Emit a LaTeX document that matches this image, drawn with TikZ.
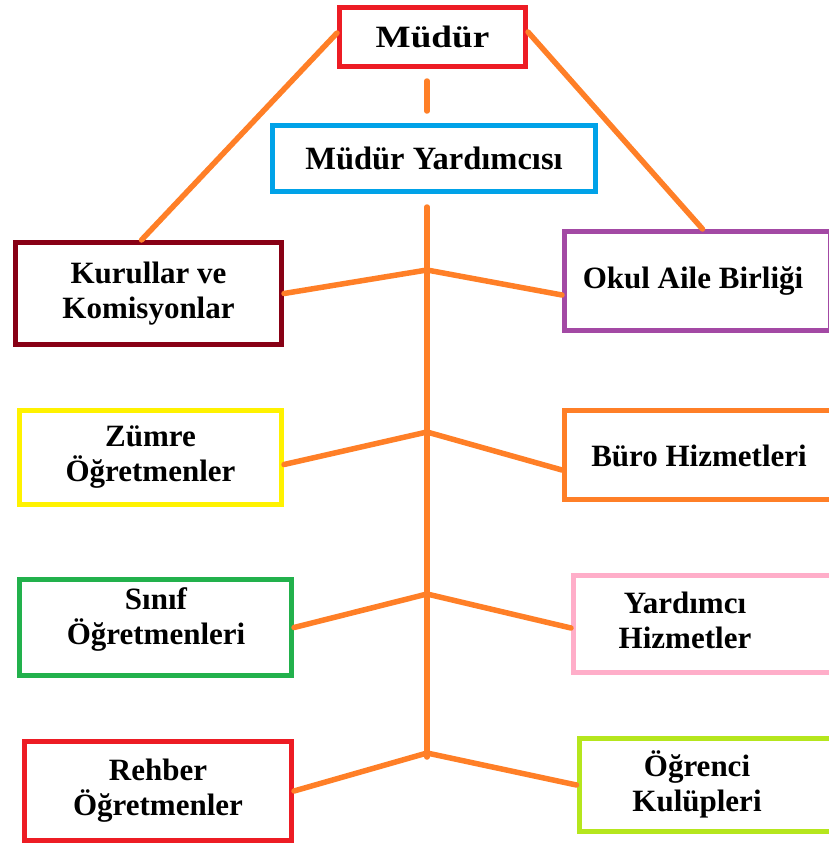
\documentclass[tikz,border=0pt]{standalone}
\usepackage{fontspec}
\setmainfont{Liberation Serif}
\definecolor{cRed}{HTML}{ED1C24}
\definecolor{cBlue}{HTML}{00A2E8}
\definecolor{cMaroon}{HTML}{880015}
\definecolor{cPurple}{HTML}{A349A4}
\definecolor{cYellow}{HTML}{FFF200}
\definecolor{cOrange}{HTML}{FF7F27}
\definecolor{cGreen}{HTML}{22B14C}
\definecolor{cPink}{HTML}{FFAEC9}
\definecolor{cLime}{HTML}{B5E61D}
\begin{document}
\begin{tikzpicture}[x=1pt,y=-1pt,
  orgbox/.style={draw, line width=5pt, inner sep=0pt, align=center,
    font=\fontsize{31}{35}\selectfont\bfseries},
  lbl/.style={inner sep=0pt, align=center, font=\fontsize{31}{35}\selectfont\bfseries},
  conn/.style={draw=cOrange, line width=5.5pt, line cap=round}]
\useasboundingbox (0,0) rectangle (829,843);
\fill[white] (0,0) rectangle (829,843);

\node[orgbox, draw=cRed, minimum width=186pt, minimum height=59pt] (mudur) at (432.5,37) {\scalebox{1.2}[1]{Müdür}};
\node[orgbox, draw=cBlue, minimum width=323pt, minimum height=66pt, font=\fontsize{32.5}{35}\selectfont\bfseries] (yard) at (434,158.5) {Müdür Yardımcısı};
\node[orgbox, draw=cMaroon, minimum width=266pt, minimum height=102pt] (kurul) at (148.5,293.5) {Kurullar ve\\Komisyonlar};
\node[orgbox, draw=cPurple, minimum width=266pt, minimum height=99pt] (okul) at (697.5,281) {};
\node[lbl] (okult) at (693,281) {Okul Aile Birliği};
\node[orgbox, draw=cYellow, minimum width=262pt, minimum height=94pt] (zumre) at (150.5,457.5) {Zümre\\Öğretmenler};
\node[orgbox, draw=cOrange, minimum width=270.5pt, minimum height=89pt] (buro) at (699.75,455) {};
\node[lbl] (burot) at (699,456) {Büro Hizmetleri};
\node[orgbox, draw=cGreen, minimum width=272pt, minimum height=96pt] (sinif) at (155.5,627.5) {};
\node[lbl] (sinift) at (156,619.5) {Sınıf\\Öğretmenleri};
\node[orgbox, draw=cPink, minimum width=261.5pt, minimum height=97pt] (yhiz) at (704.25,624) {};
\node[lbl] (yhizt) at (685,620) {Yardımcı\\Hizmetler};
\node[orgbox, draw=cRed, minimum width=267pt, minimum height=99pt] (rehber) at (158,791) {Rehber\\Öğretmenler};
\node[orgbox, draw=cLime, minimum width=256pt, minimum height=93pt] (ogr) at (707,785) {};
\node[lbl] (ogrt) at (697,784) {Öğrenci\\Kulüpleri};

\coordinate (ttop) at (427,207);
\coordinate (tbot) at (427,757);
\coordinate (j1) at (427,270);
\coordinate (j2) at (427,432);
\coordinate (j3) at (427,594);
\coordinate (j4) at (427,753);

\draw[conn] ([yshift=4pt]mudur.west) -- ([xshift=-7pt]kurul.north);
\draw[conn] ([yshift=5pt]mudur.east) -- ([xshift=5pt]okul.north);
\draw[conn] ([xshift=-5.5pt,yshift=-12pt]mudur.south) -- ([xshift=-7pt,yshift=12pt]yard.north);
\draw[conn] (ttop) -- (tbot);
\draw[conn] (kurul.east) -- (j1) -- ([yshift=-14pt]okul.west);
\draw[conn] ([yshift=-7pt]zumre.east) -- (j2) -- ([yshift=-15pt]buro.west);
\draw[conn] (sinif.east) -- (j3) -- ([yshift=-4pt]yhiz.west);
\draw[conn] (rehber.east) -- (j4) -- (ogr.west);
\end{tikzpicture}
\end{document}
